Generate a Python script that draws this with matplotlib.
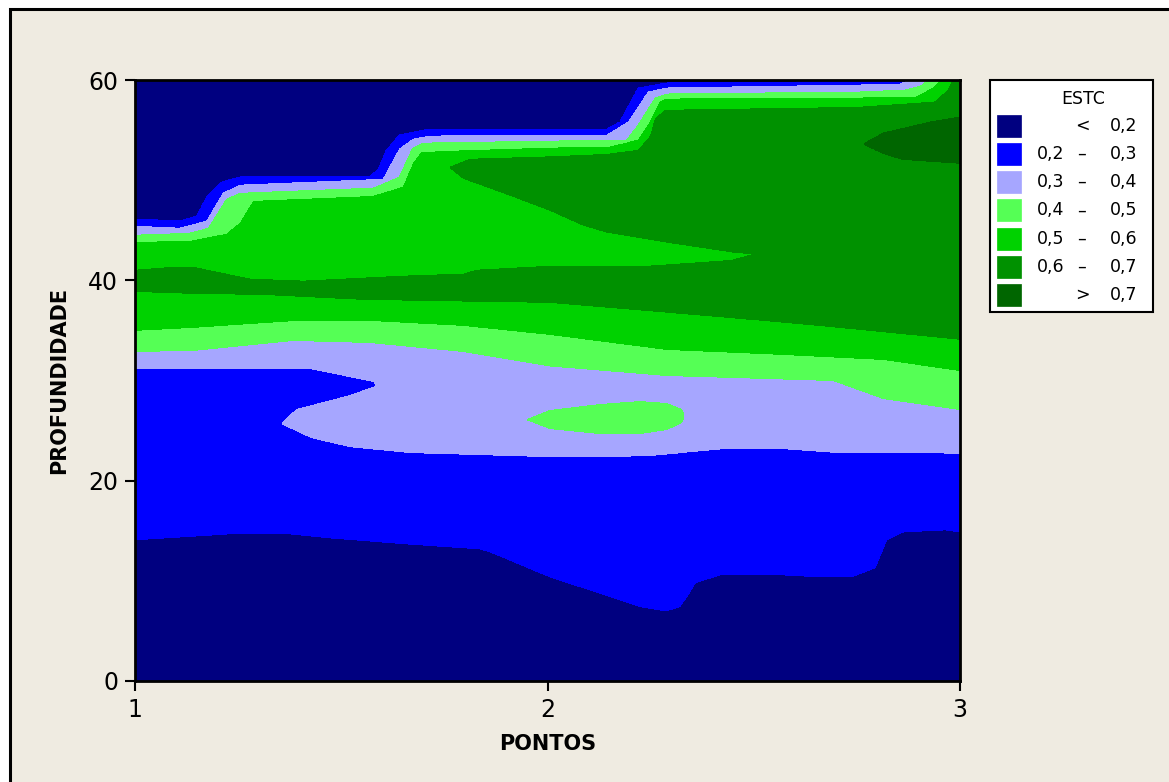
import numpy as np
import matplotlib
matplotlib.use("Agg")
import matplotlib.pyplot as plt
from matplotlib.patches import Rectangle

W, H = 1169, 782

# ESTC class limits and fill colours (lowest class first)
levels = [0.2, 0.3, 0.4, 0.5, 0.6, 0.7]
band_colors = ["#000080", "#0000FF", "#A6A6FF", "#55FF55", "#00D200", "#009100", "#006600"]
band_centers = [0.15, 0.25, 0.35, 0.45, 0.55, 0.65, 0.75]

x_ticks = [1, 2, 3]
y_ticks = [0, 20, 40, 60]

# ---- iso-lines of ESTC over (PONTOS, PROFUNDIDADE) ----
# 0.2 line near the bottom
lo02_x = [1.000, 1.230, 1.376, 1.473, 1.659, 1.836, 1.861, 2.006, 2.095, 2.228, 2.287, 2.320,
          2.341, 2.358, 2.418, 2.572, 2.661, 2.737, 2.794, 2.822, 2.863, 2.964, 3.000]
lo02_d = [14.1, 14.7, 14.7, 14.3, 13.7, 13.2, 12.9, 10.4, 9.2, 7.4, 7.0, 7.4,
          8.6, 9.8, 10.6, 10.6, 10.4, 10.4, 11.3, 14.1, 14.9, 15.1, 14.9]
# 0.3 line on the left, up to the notch
lf03_x = [1.000, 1.424, 1.578, 1.585]
lf03_d = [31.2, 31.2, 29.9, 29.45]
# 0.3 line bounding the upper edge of the 0.3-0.4 tongue
ic03_x = [1.356, 1.392, 1.521, 1.585]
ic03_d = [25.7, 27.1, 28.5, 29.45]
# 0.3 line below the 0.3-0.4 zone
lo03_x = [1.356, 1.428, 1.521, 1.667, 2.006, 2.240, 2.426, 2.572, 2.709, 2.944, 3.000]
lo03_d = [25.7, 24.3, 23.4, 22.8, 22.4, 22.5, 23.2, 23.2, 22.8, 22.8, 22.7]
# closed 0.4 island (lower and upper edge)
is04a_x = [1.951, 2.006, 2.127, 2.224, 2.289, 2.325, 2.331]
is04a_d = [26.1, 25.2, 24.7, 24.7, 25.1, 25.8, 26.45]
is04b_x = [1.951, 2.006, 2.127, 2.224, 2.289, 2.325, 2.331]
is04b_d = [26.1, 27.0, 27.6, 27.9, 27.7, 27.1, 26.45]
# lower 0.4, 0.5 and 0.6 lines
lo04_x = [1.000, 1.141, 1.384, 1.570, 1.796, 2.006, 2.289, 2.693, 2.814, 3.000]
lo04_d = [32.9, 33.0, 34.0, 33.8, 32.9, 31.45, 30.5, 30.0, 28.2, 27.1]
lo05_x = [1.000, 1.141, 1.392, 1.570, 1.796, 2.006, 2.289, 2.572, 2.814, 3.000]
lo05_d = [35.0, 35.3, 36.0, 36.0, 35.5, 34.6, 33.1, 32.6, 32.1, 31.0]
lo06_x = [1.000, 1.141, 1.311, 1.553, 1.844, 2.006, 2.410, 2.678, 3.000]
lo06_d = [38.9, 38.7, 38.6, 38.1, 37.9, 37.8, 36.4, 35.4, 34.1]
# 0.6 line on top of the 0.6-0.7 band
bt06_x = [1.000, 1.093, 1.141, 1.279, 1.408, 1.650, 1.796, 1.828, 2.006, 2.240, 2.446, 2.499]
bt06_d = [41.0, 41.3, 41.3, 40.1, 39.9, 40.4, 40.6, 41.0, 41.4, 41.4, 42.0, 42.6]
# 0.6 line on top of the 0.5-0.6 wedge
wd06_x = [1.764, 1.796, 1.916, 2.006, 2.087, 2.144, 2.289, 2.450, 2.499]
wd06_d = [51.3, 50.2, 48.4, 47.0, 45.5, 44.8, 43.8, 42.8, 42.6]
# upper 0.6 line
up06_x = [1.764, 1.812, 2.006, 2.144, 2.220, 2.248, 2.261, 2.285, 2.758, 2.939, 2.972, 2.986]
up06_d = [51.3, 52.1, 52.35, 52.6, 53.0, 54.3, 56.1, 57.0, 57.3, 57.8, 59.0, 60.3]
# 0.7 patch (lower and upper edge)
p07a_x = [2.766, 2.814, 2.859, 3.000]
p07a_d = [53.6, 52.7, 52.1, 51.7]
p07b_x = [2.766, 2.814, 2.927, 3.000]
p07b_d = [53.6, 54.7, 55.8, 56.3]
# upper 0.5, 0.4, 0.3 and 0.2 lines
up05_x = [1.000, 1.133, 1.222, 1.255, 1.287, 1.578, 1.650, 1.675, 1.695, 2.006, 2.152, 2.220,
          2.248, 2.273, 2.289, 2.758, 2.895, 2.935, 2.964]
up05_d = [43.8, 43.9, 44.6, 45.7, 47.9, 48.4, 49.3, 51.7, 52.8, 53.2, 53.3, 54.0,
          55.7, 57.8, 58.1, 58.2, 58.3, 59.2, 60.3]
up04_x = [1.000, 1.133, 1.178, 1.222, 1.255, 1.578, 1.641, 1.673, 1.699, 2.006, 2.192, 2.220,
          2.261, 2.289, 2.758, 2.867, 2.905, 2.935]
up04_d = [44.5, 44.7, 45.2, 48.1, 48.7, 49.2, 50.3, 53.2, 53.7, 53.9, 54.0, 55.5,
          58.2, 58.6, 58.8, 59.0, 59.4, 60.3]
up03_x = [1.000, 1.109, 1.174, 1.214, 1.255, 1.602, 1.641, 1.675, 1.715, 2.006, 2.144, 2.196,
          2.244, 2.289, 2.758, 2.855, 2.897]
up03_d = [45.4, 45.2, 45.9, 48.7, 49.5, 50.1, 53.1, 54.1, 54.4, 54.5, 54.5, 55.8,
          58.8, 59.2, 59.5, 59.6, 60.3]
up02_x = [1.000, 1.109, 1.150, 1.174, 1.210, 1.263, 1.570, 1.589, 1.610, 1.641, 1.715, 2.006,
          2.144, 2.176, 2.220, 2.289, 2.758, 2.855, 2.877]
up02_d = [46.1, 45.9, 46.4, 48.3, 49.8, 50.4, 50.4, 51.0, 53.0, 54.5, 55.1, 55.1,
          55.1, 55.8, 59.2, 59.7, 59.85, 59.9, 60.3]

iso_lines = [
    (0.2, lo02_x, lo02_d), (0.3, lf03_x, lf03_d), (0.3, ic03_x, ic03_d), (0.3, lo03_x, lo03_d),
    (0.4, is04a_x, is04a_d), (0.4, is04b_x, is04b_d), (0.4, lo04_x, lo04_d),
    (0.5, lo05_x, lo05_d), (0.6, lo06_x, lo06_d), (0.6, bt06_x, bt06_d),
    (0.6, wd06_x, wd06_d), (0.6, up06_x, up06_d), (0.7, p07a_x, p07a_d), (0.7, p07b_x, p07b_d),
    (0.5, up05_x, up05_d), (0.4, up04_x, up04_d), (0.3, up03_x, up03_d), (0.2, up02_x, up02_d),
]


def column_profile(x):
    """Depth/value knots of ESTC along one vertical at position x."""
    cross = sorted((float(np.interp(x, xs, ds)), lev)
                   for lev, xs, ds in iso_lines if xs[0] <= x <= xs[-1])
    kept = []
    for d, lev in cross:
        if kept and kept[-1][1] == lev and abs(kept[-1][0] - d) < 0.02:
            kept.pop()
            continue
        kept.append((d, lev))
    band = 0
    kd, kv = [-1.0], [band_centers[0]]
    prev = None
    for d, lev in kept:
        k = levels.index(lev)
        if band not in (k, k + 1):
            continue
        if prev is not None and prev[1] == lev:
            kd.append(0.5 * (prev[0] + d))
            kv.append(band_centers[band])
        kd.append(d)
        kv.append(lev)
        band = k + 1 if band == k else k
        prev = (d, lev)
    kd.append(61.5)
    kv.append(band_centers[band])
    return np.array(kd), np.array(kv)


xg = np.linspace(1.0, 3.0, 1001)
dg = np.linspace(0.0, 60.0, 1201)
Z = np.empty((dg.size, xg.size))
for j, xv in enumerate(xg):
    kd, kv = column_profile(xv)
    Z[:, j] = np.interp(dg, kd, kv)

# ---- figure ----
beige = "#EFEBE1"
fig = plt.figure(figsize=(W / 100, H / 100), dpi=100, facecolor="white")

bg = fig.add_axes([0, 0, 1, 1], zorder=-1)
bg.set_xlim(0, W)
bg.set_ylim(H, 0)
bg.axis("off")
bg.add_patch(Rectangle((9.5, 8.5), W + 20, H + 20, facecolor=beige, edgecolor="black", lw=2.2))

ax = fig.add_axes([135 / W, 1 - 681 / H, 825 / W, 601 / H], zorder=1)
ax.contourf(xg, dg, Z, levels=[-1.0] + levels + [2.0], colors=band_colors, antialiased=False)
ax.set_xlim(1, 3)
ax.set_ylim(0, 60)
ax.set_xticks(x_ticks)
ax.set_yticks(y_ticks)
ax.set_xticklabels([str(v) for v in x_ticks])
ax.set_yticklabels([str(v) for v in y_ticks])
ax.tick_params(direction="out", length=7, width=1.5, labelsize=17, pad=5, colors="black")
for s in ax.spines.values():
    s.set_linewidth(2)
    s.set_color("black")

bg.text(547.5, 744, "PONTOS", ha="center", va="center", fontsize=15, fontweight="bold")
bg.text(59, 380.5, "PROFUNDIDADE", ha="center", va="center", rotation=90,
        fontsize=15, fontweight="bold")

# ---- legend ----
bg.add_patch(Rectangle((989.5, 79.5), 163, 232, facecolor="white", edgecolor="black", lw=1.5))
bg.text(1083, 99, "ESTC", ha="center", va="center", fontsize=12.5)


def fmt(v):
    return f"{v:.1f}".replace(".", ",")


n = len(band_colors)
for i in range(n):
    yc = 125.7 + i * 28.2
    bg.add_patch(Rectangle((997, yc - 11), 24, 22, facecolor=band_colors[i],
                           edgecolor=band_colors[i], lw=0.5))
    if i == 0:
        bg.text(1082, yc, "<", ha="center", va="center", fontsize=12.5)
        bg.text(1110, yc, fmt(levels[0]), ha="left", va="center", fontsize=12.5)
    elif i == n - 1:
        bg.text(1082, yc, ">", ha="center", va="center", fontsize=12.5)
        bg.text(1110, yc, fmt(levels[-1]), ha="left", va="center", fontsize=12.5)
    else:
        bg.text(1037, yc, fmt(levels[i - 1]), ha="left", va="center", fontsize=12.5)
        bg.text(1082, yc, "\u2013", ha="center", va="center", fontsize=12.5)
        bg.text(1110, yc, fmt(levels[i]), ha="left", va="center", fontsize=12.5)

fig.savefig("out.png", dpi=100, facecolor="white")
